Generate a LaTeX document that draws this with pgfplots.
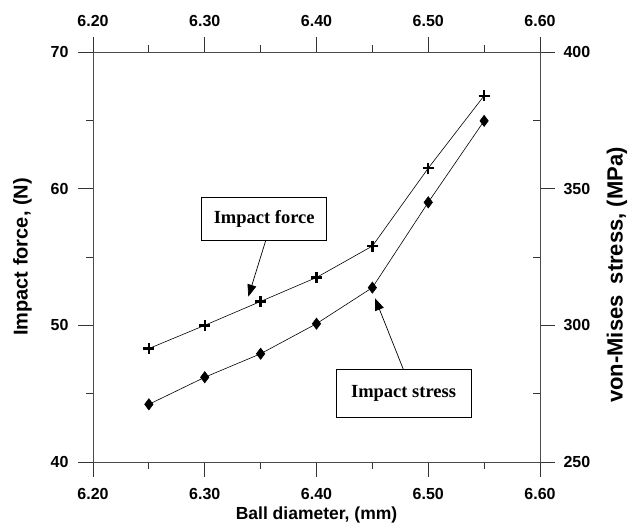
\documentclass[border=0pt]{standalone}
\usepackage{pgfplots}
\pgfplotsset{compat=1.18}
\usepackage{fontspec}
\setmainfont{Liberation Sans}
\newfontfamily\serifb{Liberation Serif}
\usetikzlibrary{arrows.meta}
\begin{document}
\begin{tikzpicture}
\pgfplotsset{
  common/.style={
    scale only axis, width=447pt, height=410pt,
    at={(0pt,0pt)}, anchor=south west,
    xmin=6.2, xmax=6.6,
    xtick={6.2,6.3,6.4,6.5,6.6},
    xticklabels={6.20,6.30,6.40,6.50,6.60},
    minor x tick num=1, minor y tick num=1,
    tick align=outside,
    major tick length=15pt, minor tick length=7pt,
    axis line style={black!70, line width=0.9pt},
    tick style={black!80, line width=0.9pt},
    /pgf/number format/assume math mode=true,
    ticklabel style={font=\fontsize{16}{16}\selectfont\bfseries},
    clip=false,
  }
}
\begin{axis}[common,
  ymin=40, ymax=70, ytick={40,50,60,70},
  xtick pos=bottom, ytick pos=left,
  xticklabel style={yshift=-8pt},
  yticklabel style={xshift=-6pt},
  xlabel={Ball diameter, (mm)},
  ylabel={Impact force, (N)},
  xlabel style={at={(axis description cs:0.5,0)}, anchor=center, yshift=-53pt, font=\fontsize{17.5}{18}\selectfont\bfseries},
  ylabel style={at={(axis description cs:0,0.5)}, anchor=center, yshift=70.5pt, font=\fontsize{20}{20}\selectfont\bfseries},
]
\addplot[black, line width=0.6pt, mark=+, mark size=5.5pt, mark options={line width=2.4pt}]
  coordinates {(6.25,48.3) (6.30,50.0) (6.35,51.75) (6.40,53.5) (6.45,55.8) (6.50,61.5) (6.55,66.8)};
\node[draw=black, line width=0.8pt, fill=white, minimum width=125pt, minimum height=43pt, inner sep=0pt,
  font=\serifb\fontsize{18.5}{19}\selectfont\bfseries] at (axis cs:6.3532,57.78) {Impact force};
\draw[black, line width=0.7pt, -{Triangle[length=12pt,width=9pt]}] (axis cs:6.3545,56.19) -- (axis cs:6.339,52.10);
\node[draw=black, line width=0.8pt, fill=white, minimum width=135pt, minimum height=48pt, inner sep=0pt,
  font=\serifb\fontsize{18.5}{19}\selectfont\bfseries] at (axis cs:6.4779,45.03) {Impact stress};
\draw[black, line width=0.7pt, -{Triangle[length=12pt,width=9pt]}] (axis cs:6.4777,46.78) -- (axis cs:6.4524,51.98);
\end{axis}
\begin{axis}[common,
  ymin=250, ymax=400, ytick={250,300,350,400},
  xtick pos=top, xticklabel pos=top,
  ytick pos=right, yticklabel pos=right,
  xticklabel style={yshift=7pt},
  yticklabel style={xshift=5pt},
  minor y tick style={xshift=-7pt},
  ylabel={von-Mises\hspace{0.5em}stress, (MPa)},
  ylabel style={at={(axis description cs:1,0.456)}, anchor=center, yshift=-77pt, font=\fontsize{22}{22}\selectfont\bfseries},
]
\addplot[black, line width=0.6pt, mark=diamond*, mark size=5.6pt]
  coordinates {(6.25,271.1) (6.30,281.0) (6.35,289.6) (6.40,300.6) (6.45,313.8) (6.50,345.0) (6.55,374.8)};
\end{axis}
\pgfresetboundingbox
\useasboundingbox (-93pt,-64pt) rectangle (535pt,462pt);
\end{tikzpicture}
\end{document}
